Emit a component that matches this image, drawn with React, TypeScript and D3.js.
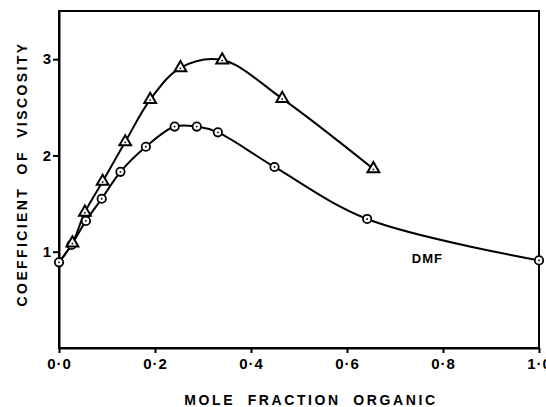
import { useEffect, useRef } from "react";
import * as d3 from "d3";

// circles (lower curve, DMF)
const dmfX = [0.0, 0.026, 0.056, 0.089, 0.128, 0.181, 0.241, 0.287, 0.331, 0.449, 0.642, 1.0];
const dmfY = [0.89, 1.07, 1.32, 1.55, 1.83, 2.09, 2.3, 2.3, 2.24, 1.88, 1.34, 0.91];

// triangles (upper curve)
const triX = [0.028, 0.054, 0.091, 0.138, 0.19, 0.253, 0.34, 0.465, 0.655];
const triY = [1.09, 1.41, 1.73, 2.14, 2.58, 2.91, 2.99, 2.59, 1.86];

const xTicks = [0, 0.2, 0.4, 0.6, 0.8, 1.0];
const xTickLabels = ["0·0", "0·2", "0·4", "0·6", "0·8", "1·0"];
const yTicks = [1, 2, 3];

export default function App() {
  const svgRef = useRef<SVGSVGElement>(null);

  useEffect(() => {
    const width = 546;
    const height = 407;
    const margin = { top: 11, right: 7, bottom: 59, left: 59 };
    const w = width - margin.left - margin.right;
    const h = height - margin.top - margin.bottom;
    const font = "'Liberation Sans', Arial, sans-serif";

    d3.select(svgRef.current).selectAll("*").remove();

    const svg = d3
      .select(svgRef.current)
      .attr("width", width)
      .attr("height", height)
      .append("g")
      .attr("transform", `translate(${margin.left},${margin.top})`);

    const x = d3.scaleLinear().domain([0, 1]).range([0, w]);
    const y = d3.scaleLinear().domain([0, 3.5]).range([h, 0]);

    // frame
    svg
      .append("rect")
      .attr("x", 0)
      .attr("y", 0)
      .attr("width", w)
      .attr("height", h)
      .attr("fill", "none")
      .attr("stroke", "#000")
      .attr("stroke-width", 2);

    // x axis
    const xAxis = svg
      .append("g")
      .attr("transform", `translate(0,${h})`)
      .call(
        d3
          .axisBottom(x)
          .tickValues(xTicks)
          .tickSize(5)
          .tickSizeOuter(0)
          .tickFormat((d, i) => xTickLabels[i])
      );
    xAxis.select(".domain").attr("stroke-width", 2);
    xAxis.selectAll(".tick line").attr("stroke-width", 2);
    xAxis
      .selectAll(".tick text")
      .attr("y", 10)
      .attr("font-family", font)
      .attr("font-weight", "bold")
      .attr("font-size", 15)
      .attr("letter-spacing", 1)
      .attr("fill", "#000");

    // y axis
    const yAxis = svg
      .append("g")
      .call(d3.axisLeft(y).tickValues(yTicks).tickSize(6).tickSizeOuter(0).tickFormat(d3.format("d")));
    yAxis.select(".domain").attr("stroke-width", 2);
    yAxis.selectAll(".tick line").attr("stroke-width", 2);
    yAxis
      .selectAll(".tick text")
      .attr("x", -8)
      .attr("font-family", font)
      .attr("font-weight", "bold")
      .attr("font-size", 15)
      .attr("fill", "#000");

    const line = d3
      .line<[number, number]>()
      .x((d) => x(d[0]))
      .y((d) => y(d[1]))
      .curve(d3.curveCatmullRom.alpha(0.5));

    const dmf: [number, number][] = dmfX.map((v, i) => [v, dmfY[i]]);
    const tri: [number, number][] = triX.map((v, i) => [v, triY[i]]);

    svg
      .append("path")
      .attr("d", line(dmf))
      .attr("fill", "none")
      .attr("stroke", "#000")
      .attr("stroke-width", 2);

    svg
      .append("path")
      .attr("d", line([dmf[0], ...tri]))
      .attr("fill", "none")
      .attr("stroke", "#000")
      .attr("stroke-width", 2);

    // circle markers
    const cg = svg
      .selectAll(".dmf-pt")
      .data(dmf)
      .join("g")
      .attr("class", "dmf-pt")
      .attr("transform", (d) => `translate(${x(d[0])},${y(d[1])})`);
    cg.append("circle").attr("r", 4.2).attr("fill", "#fff").attr("stroke", "#000").attr("stroke-width", 1.8);
    cg.append("circle").attr("r", 0.9).attr("fill", "#000");

    // triangle markers
    const triPath = d3.symbol().type(d3.symbolTriangle).size(60)();
    const tg = svg
      .selectAll(".tri-pt")
      .data(tri)
      .join("g")
      .attr("class", "tri-pt")
      .attr("transform", (d) => `translate(${x(d[0])},${y(d[1])})`);
    tg.append("path")
      .attr("d", triPath)
      .attr("fill", "#fff")
      .attr("stroke", "#000")
      .attr("stroke-width", 2);
    tg.append("circle").attr("cy", 0.5).attr("r", 0.9).attr("fill", "#000");

    // DMF label
    svg
      .append("text")
      .attr("x", x(0.735))
      .attr("y", y(0.88))
      .attr("font-family", font)
      .attr("font-weight", "bold")
      .attr("font-size", 13)
      .attr("letter-spacing", 1)
      .text("DMF");

    // axis titles
    svg
      .append("text")
      .attr("x", w / 2 + 12)
      .attr("y", h + 57)
      .attr("text-anchor", "middle")
      .attr("font-family", font)
      .attr("font-weight", "bold")
      .attr("font-size", 14)
      .attr("letter-spacing", 2.6)
      .attr("word-spacing", 6)
      .text("MOLE FRACTION ORGANIC");

    svg
      .append("text")
      .attr("transform", `translate(${-32},${174 - margin.top}) rotate(-90)`)
      .attr("text-anchor", "middle")
      .attr("font-family", font)
      .attr("font-weight", "bold")
      .attr("font-size", 14)
      .attr("letter-spacing", 2.4)
      .attr("word-spacing", 6)
      .text("COEFFICIENT OF VISCOSITY");
  }, []);

  return <svg ref={svgRef} style={{ position: "absolute", left: 0, top: 0, background: "#fff" }}></svg>;
}
